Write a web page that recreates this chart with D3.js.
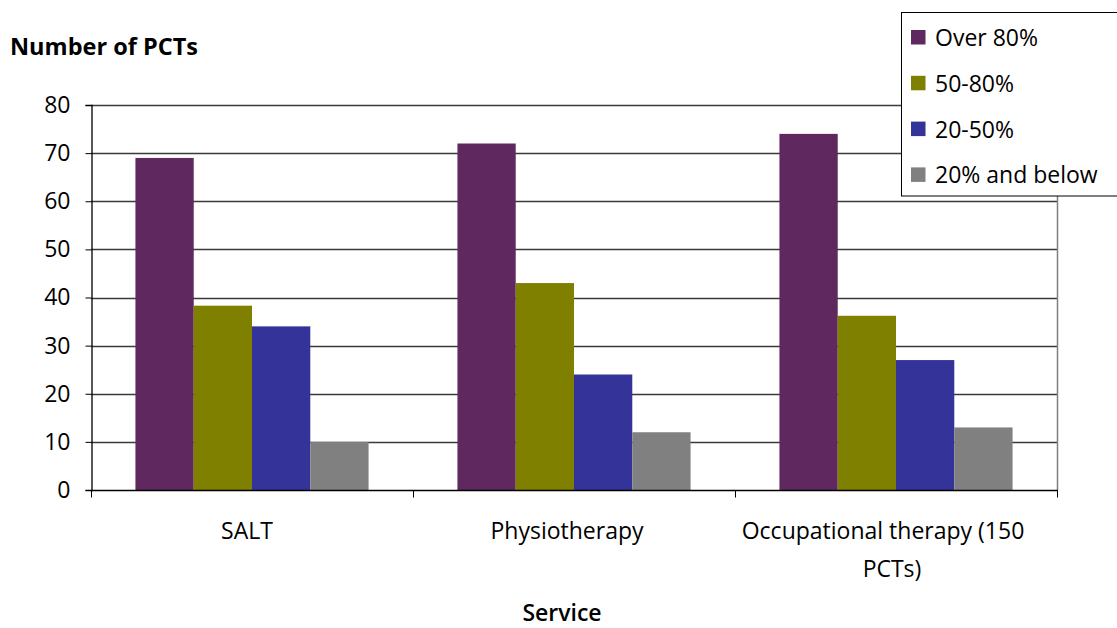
<!DOCTYPE html>
<html>
<head>
<meta charset="utf-8">
<script src="https://cdn.jsdelivr.net/npm/d3@7"></script>
<style>
  html, body { margin: 0; padding: 0; background: #fff; }
  svg { display: block; }
  text { font-family: "Open Sans", "Noto Sans", sans-serif; fill: #000; }
</style>
</head>
<body>
<svg id="chart" width="1117" height="628"></svg>
<script>
// Services on the x axis (each label split into its drawn lines)
const services = ["SALT", "Physiotherapy", "Occupational therapy (150 PCTs)"];
const serviceLines = [["SALT"], ["Physiotherapy"], ["Occupational therapy (150", "PCTs)"]];

// Coverage bands (series)
const bands = ["Over 80%", "50-80%", "20-50%", "20% and below"];
const bandColors = ["#5f285e", "#808000", "#333399", "#808080"];

// Number of PCTs per service, one array per band
const over80 = [69, 72, 74];
const from50to80 = [38.3, 43, 36.2];
const from20to50 = [34, 24, 27];
const below20 = [10, 12, 13];
const seriesValues = [over80, from50to80, from20to50, below20];

const yTicks = [0, 10, 20, 30, 40, 50, 60, 70, 80];

const svg = d3.select("#chart");
const plot = { left: 91, right: 1057, top: 105, bottom: 490 };
const FS = "23px";

const x0 = d3.scaleBand().domain(services).range([plot.left, plot.right]).padding(0);
const x1 = d3.scaleBand().domain(bands)
  .range([x0.bandwidth() * 0.138, x0.bandwidth() * 0.862]).padding(0);
const y = d3.scaleLinear().domain([0, 80]).range([plot.bottom, plot.top]);

// Gridlines
svg.append("g")
  .selectAll("line")
  .data(yTicks.filter(t => t > 0))
  .join("line")
  .attr("x1", plot.left).attr("x2", plot.right)
  .attr("y1", d => Math.round(y(d)) + 0.5).attr("y2", d => Math.round(y(d)) + 0.5)
  .attr("stroke", "#3a3a3a").attr("stroke-width", 1.3);

// Right border of plot area
svg.append("line")
  .attr("x1", plot.right + 0.5).attr("x2", plot.right + 0.5)
  .attr("y1", plot.top).attr("y2", plot.bottom)
  .attr("stroke", "#808080").attr("stroke-width", 1.5);

// Bars
const rows = [];
services.forEach((s, i) => bands.forEach((b, j) => rows.push({ s, b, j, v: seriesValues[j][i] })));
svg.append("g")
  .selectAll("rect")
  .data(rows)
  .join("rect")
  .attr("x", d => x0(d.s) + x1(d.b))
  .attr("width", x1.bandwidth())
  .attr("y", d => y(d.v))
  .attr("height", d => y(0) - y(d.v))
  .attr("fill", d => bandColors[d.j]);

// Y axis
const yAxis = svg.append("g")
  .attr("transform", `translate(${plot.left + 0.5},0)`)
  .call(d3.axisLeft(y).tickValues(yTicks).tickSize(6).tickPadding(15));
yAxis.select(".domain").attr("stroke", "#000").attr("stroke-width", 1.3);
yAxis.selectAll(".tick line").attr("stroke", "#000");
yAxis.selectAll(".tick text")
  .style("font-size", FS).style("font-family", "'Open Sans', sans-serif");

// X axis: line with tick marks at category boundaries
const xAxisG = svg.append("g").attr("transform", `translate(0,${plot.bottom + 0.5})`);
xAxisG.append("line")
  .attr("x1", plot.left).attr("x2", plot.right + 1)
  .attr("stroke", "#000").attr("stroke-width", 1.3);
const boundaries = services.map(s => x0(s)).concat([x0(services[services.length - 1]) + x0.bandwidth()]);
xAxisG.selectAll("line.tk")
  .data(boundaries)
  .join("line").attr("class", "tk")
  .attr("x1", d => Math.round(d) + 0.5).attr("x2", d => Math.round(d) + 0.5)
  .attr("y1", 0).attr("y2", 7)
  .attr("stroke", "#000");

// Category labels (centred slightly left of the band middle, as wrapped text)
const labelShift = [[-5], [-7], [-13, -4]];
const labels = svg.append("g");
services.forEach((s, i) => {
  const cx = x0(s) + x0.bandwidth() / 2;
  serviceLines[i].forEach((ln, k) => {
    labels.append("text")
      .attr("x", cx + labelShift[i][k])
      .attr("y", 539 + k * 38)
      .attr("text-anchor", "middle")
      .style("font-size", FS)
      .text(ln);
  });
});

// Axis titles
svg.append("text")
  .attr("x", 10).attr("y", 55)
  .style("font-size", "23.5px").style("font-weight", "bold")
  .text("Number of PCTs");
svg.append("text")
  .attr("x", 562).attr("y", 621)
  .attr("text-anchor", "middle")
  .style("font-size", FS).style("font-weight", "600")
  .text("Service");

// Legend
const legend = svg.append("g");
legend.append("rect")
  .attr("x", 901.5).attr("y", 12.5).attr("width", 230).attr("height", 183.5)
  .attr("fill", "#fff").attr("stroke", "#000").attr("stroke-width", 1);
bands.forEach((b, j) => {
  const cy = 37 + j * 45.8;
  legend.append("rect")
    .attr("x", 911).attr("y", cy - 7).attr("width", 14.5).attr("height", 14.5)
    .attr("fill", bandColors[j]);
  legend.append("text")
    .attr("x", 935).attr("y", cy + 9)
    .style("font-size", FS)
    .text(b);
});
</script>
</body>
</html>
